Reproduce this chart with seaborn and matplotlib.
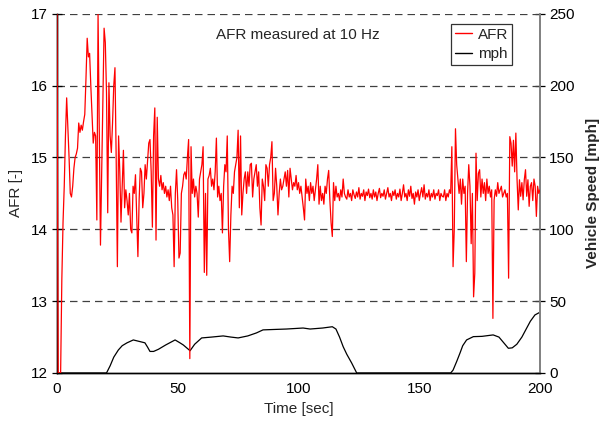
import numpy as np
import pandas as pd
import matplotlib
matplotlib.use("Agg")
import matplotlib.pyplot as plt
import seaborn as sns
from matplotlib.lines import Line2D

sns.set_style("white")
plt.rcParams['font.family'] = ['Liberation Sans', 'DejaVu Sans']

afr_step = 0.5
afr = [
    # 0-10
    17.0, 12.0, 12.0, 12.0, 13.3, 14.1, 14.6, 15.3, 15.83, 15.4,
    15.0, 14.5, 14.45, 14.6, 14.85, 15.0, 15.05, 15.13, 15.48, 15.35,
    # 10-20
    15.45, 15.38, 15.5, 15.6, 16.1, 16.66, 16.4, 16.45, 16.0, 15.6,
    15.2, 15.35, 15.3, 14.13, 17.0, 15.4, 13.78, 14.8, 15.8, 16.8,
    # 20-30
    16.6, 15.9, 14.23, 16.04, 15.3, 15.07, 15.48, 16.0, 16.25, 15.0,
    13.48, 15.3, 14.8, 14.1, 14.6, 15.1, 14.3, 14.55, 14.4, 14.2,
    # 30-40
    14.5, 14.0, 13.95, 14.6, 14.5, 14.76, 14.2, 13.62, 14.4, 14.85,
    14.8, 14.3, 14.5, 14.9, 14.7, 14.95, 15.2, 15.25, 14.8, 14.03,
    # 40-50
    15.3, 15.69, 13.85, 15.56, 14.7, 14.6, 14.75, 14.55, 14.65, 14.5,
    14.6, 14.45, 14.55, 14.4, 14.6, 14.3, 14.2, 13.48, 14.5, 14.83,
    # 50-60
    14.4, 13.6, 13.67, 14.5, 14.6, 14.76, 14.8, 14.7, 15.0, 15.25,
    12.2, 15.15, 14.5, 14.7, 14.45, 14.6, 14.5, 14.17, 14.7, 14.8,
    # 60-70
    14.9, 15.15, 13.4, 14.5, 13.36, 14.7, 14.75, 14.85, 14.6, 14.7,
    14.55, 14.8, 15.27, 14.45, 14.6, 14.4, 14.5, 13.95, 14.6, 14.9,
    # 70-80
    14.8, 15.3, 14.0, 13.55, 14.2, 14.6, 14.5, 14.8, 14.9, 15.0,
    15.38, 14.3, 15.3, 14.2, 14.5, 14.7, 14.8, 14.5, 14.8, 14.6,
    # 80-90
    14.9, 14.92, 14.45, 14.7, 14.8, 14.9, 14.6, 14.8, 14.3, 14.06,
    14.7, 14.6, 14.4, 14.9, 14.85, 14.6, 14.9, 15.0, 15.22, 14.4,
    # 90-100
    14.5, 14.85, 14.6, 14.2, 14.5, 14.7, 14.55, 14.6, 14.7, 14.8,
    14.6, 14.82, 14.45, 14.85, 14.7, 14.55, 14.65, 14.6, 14.75, 14.55,
    # 100-110
    14.65, 14.5, 14.6, 14.45, 14.3, 14.13, 14.7, 14.5, 14.6, 14.4,
    14.65, 14.5, 14.6, 14.4, 14.55, 14.7, 14.9, 14.35, 14.6, 14.4,
    # 110-120
    14.5, 14.35, 14.6, 14.5, 14.7, 14.82, 14.4, 14.09, 13.9, 14.65,
    14.4, 14.6, 14.45, 14.5, 14.4, 14.55, 14.45, 14.7, 14.5, 14.45,
    # 120-130
    14.42, 14.55, 14.45, 14.5, 14.4, 14.55, 14.48, 14.43, 14.52, 14.45,
    14.58, 14.42, 14.5, 14.46, 14.55, 14.4, 14.52, 14.47, 14.56, 14.44,
    # 130-140
    14.5, 14.42, 14.55, 14.45, 14.52, 14.4, 14.5, 14.57, 14.44, 14.5,
    14.46, 14.55, 14.42, 14.5, 14.58, 14.45, 14.5, 14.4, 14.53, 14.47,
    # 140-150
    14.55, 14.42, 14.5, 14.45, 14.56, 14.4, 14.5, 14.62, 14.45, 14.5,
    14.4, 14.55, 14.46, 14.6, 14.43, 14.5, 14.35, 14.52, 14.45, 14.55,
    # 150-160
    14.4, 14.5, 14.58, 14.45, 14.62, 14.42, 14.5, 14.45, 14.55, 14.4,
    14.5, 14.45, 14.55, 14.42, 14.5, 14.47, 14.55, 14.4, 14.5, 14.46,
    # 160-170
    14.45, 14.55, 14.4, 14.5, 14.45, 14.55, 14.5, 15.15, 13.48, 14.0,
    15.4, 14.9, 14.7, 14.5, 14.7, 14.35, 14.7, 14.5, 14.6, 13.55,
    # 170-180
    14.5, 14.9, 14.6, 13.8, 14.5, 13.06, 13.39, 15.06, 14.4, 14.78,
    14.83, 14.45, 14.7, 14.5, 14.65, 14.4, 14.7, 14.5, 14.6, 14.45,
    # 180-190
    14.55, 12.76, 14.41, 14.55, 14.46, 14.65, 14.5, 14.55, 14.6, 14.45,
    14.5, 14.55, 14.45, 14.5, 13.32, 15.29, 15.2, 14.88, 15.24, 14.8,
    # 190-200
    15.34, 14.69, 14.27, 14.69, 14.46, 14.65, 14.41, 14.69, 14.83, 14.46,
    14.69, 14.32, 14.6, 14.65, 14.4, 14.7, 14.6, 14.18, 14.6, 14.5,
    14.55,
]
afr_time = np.arange(len(afr)) * afr_step

# Vehicle speed [mph]
speed_time = [0, 20.5, 22, 23.5, 25.4, 27, 29, 31.6, 34, 36.4, 37.5, 38.5, 40, 42,
              45, 48.9, 50.9, 52.3, 55.1, 57, 59.9, 64, 68.8, 72, 75, 79, 82.6,
              85.3, 90, 95, 101.9, 104.8, 110, 114, 115.5, 117, 118.5, 120, 122,
              124.1, 163, 164, 165.5, 166.9, 168, 169.6, 172.4, 176, 180.6, 183,
              185, 186.9, 188.5, 190.4, 192.5, 194.5, 196, 197.9, 200]
speed = [0, 0, 5, 11, 16, 19, 21, 23, 22, 21, 18, 15, 15, 16.5,
         19.5, 23, 21, 19.5, 15.5, 20, 24.4, 25, 25.8, 25, 24.4, 25.8, 27.9,
         30, 30.3, 30.6, 31.3, 30.6, 31.3, 32.2, 30.6, 25, 18.3, 13, 7,
         0, 0, 2, 8, 14, 19, 23, 25.3, 25.5, 26.5, 25,
         21, 17.2, 17.5, 20, 25, 31.3, 36, 40.4, 42.3]

x_ticks = [0, 50, 100, 150, 200]
afr_ticks = [12, 13, 14, 15, 16, 17]
speed_ticks = [0, 50, 100, 150, 200, 250]

df_afr = pd.DataFrame({"t": afr_time, "AFR": afr})
df_spd = pd.DataFrame({"t": speed_time, "mph": speed})

FS = 11

fig = plt.figure(figsize=(6.0, 4.32), dpi=100)
ax = fig.add_axes([0.095, 0.1366, 0.805, 0.8314])
ax2 = ax.twinx()

# grid lines on primary axis
for v in [13, 14, 15, 16, 17]:
    ax.axhline(v, color='#404040', lw=0.9, dashes=(6, 4), zorder=0)

sns.lineplot(data=df_afr, x="t", y="AFR", ax=ax, color='#ff0000', lw=0.9,
             sort=False, estimator=None, zorder=3)
sns.lineplot(data=df_spd, x="t", y="mph", ax=ax2, color='black', lw=0.9,
             sort=False, estimator=None)

ax.set_zorder(ax2.get_zorder() + 1)
ax.patch.set_visible(False)

ax.set_xlim(0, 200)
ax.set_ylim(12, 17)
ax2.set_ylim(0, 250)
ax.set_xticks(x_ticks)
ax.set_yticks(afr_ticks)
ax2.set_yticks(speed_ticks)
ax.set_xticklabels([str(v) for v in x_ticks], fontsize=FS)
ax.set_yticklabels([str(v) for v in afr_ticks], fontsize=FS)
ax2.set_yticklabels([str(v) for v in speed_ticks], fontsize=FS)

ax.set_xlabel("Time [sec]", fontsize=FS, labelpad=4)
ax.set_ylabel("AFR [-]", fontsize=FS, labelpad=6)
ax2.set_ylabel("Vehicle Speed [mph]", fontsize=FS, fontweight='bold', labelpad=8)

for a in (ax, ax2):
    a.tick_params(direction='inout', length=7, width=0.9, colors='black', pad=3)
    a.spines['top'].set_visible(False)
    for s in ['left', 'bottom']:
        a.spines[s].set_color('black')
        a.spines[s].set_linewidth(1.0)
    a.spines['right'].set_color('#808080')
    a.spines['right'].set_linewidth(1.2)
ax.tick_params(axis='y', right=False)
ax2.tick_params(axis='y', left=False)

ax.text(65.8, 16.71, "AFR measured at 10 Hz", fontsize=FS, ha='left', va='center')

handles = [Line2D([0], [0], color='#ff0000', lw=1), Line2D([0], [0], color='black', lw=1)]
leg = ax.legend(handles, ["AFR", "mph"], loc='upper right', bbox_to_anchor=(0.942, 0.972),
                fontsize=FS, frameon=True, fancybox=False, edgecolor='black',
                handlelength=1.15, handletextpad=0.35, borderpad=0.25, labelspacing=0.37,
                borderaxespad=0)
leg.get_frame().set_linewidth(0.9)

fig.savefig("out.png", dpi=100)
